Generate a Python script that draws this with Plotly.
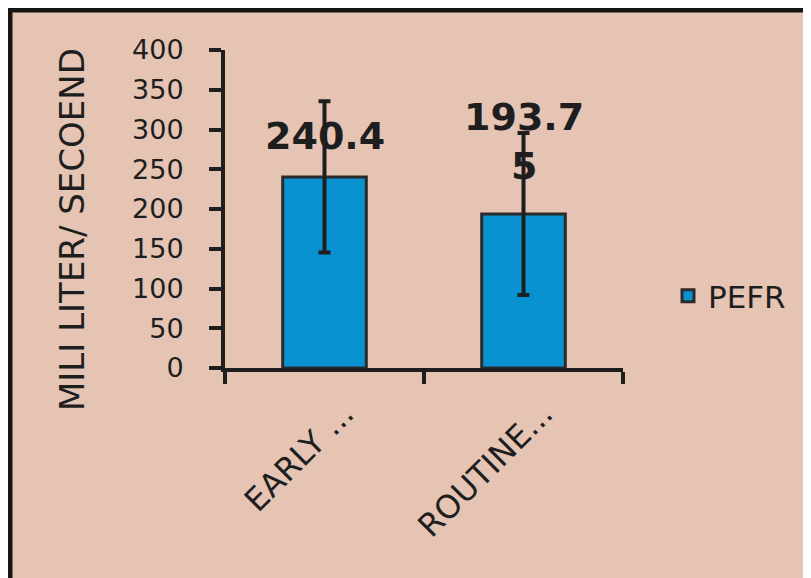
import plotly.graph_objects as go

# ---- data ----
categories = ["EARLY ...", "ROUTINE..."]
pefr_mean = [240.4, 193.75]
pefr_err = [95, 102]
label_text = ["240.4", "193.7<br>5"]
y_ticks = [0, 50, 100, 150, 200, 250, 300, 350, 400]
series_name = "PEFR"
y_title = "MILI LITER/ SECOEND"

BG = "#E5C4B4"
INK = "#1E1E1E"

OFF = 8  # page body margin
W, H = 811, 578
L, R, T, B = 225 - OFF, 811 - (623 - OFF), 50 - OFF, 578 - (368 - OFF)
pw, ph = W - L - R, H - T - B

def px_x(p):
    return (p - OFF - L) / pw

def px_y(p):
    return (H - B - (p - OFF)) / ph

fig = go.Figure()
fig.add_trace(go.Bar(
    x=categories, y=pefr_mean, name=series_name, width=0.42,
    marker=dict(color="#0892CF", line=dict(color="#2A2A2A", width=3)),
    error_y=dict(type="data", array=pefr_err, visible=True,
                 color=INK, thickness=4, width=6),
    showlegend=True,
))

annotations = []
shifts = [41, 72]
for c, v, t, s in zip(categories, pefr_mean, label_text, shifts):
    annotations.append(dict(
        x=c, y=v, xref="x", yref="y", text=t, showarrow=False,
        yanchor="middle", yshift=s,
        font=dict(family="DejaVu Sans", size=38, color=INK, weight="bold"),
    ))
annotations.append(dict(
    x=px_x(72), y=px_y(230), xref="paper", yref="paper", text=y_title,
    showarrow=False, textangle=-90, xanchor="center", yanchor="middle",
    font=dict(family="DejaVu Sans", size=34, color=INK),
))

fig.update_layout(
    width=W, height=H,
    margin=dict(l=L, r=R, t=T, b=B, pad=0),
    paper_bgcolor=BG, plot_bgcolor=BG,
    annotations=annotations,
    showlegend=True,
    legend=dict(x=px_x(668), y=px_y(296), xanchor="left", yanchor="middle",
                bgcolor="rgba(0,0,0,0)",
                font=dict(family="DejaVu Sans", size=31, color=INK)),
    shapes=[dict(type="rect", xref="paper", yref="paper",
                 x0=px_x(10), x1=px_x(840), y0=px_y(10), y1=px_y(620),
                 line=dict(color="#151515", width=5), fillcolor="rgba(0,0,0,0)",
                 layer="below")],
    xaxis=dict(
        showline=True, linecolor=INK, linewidth=4,
        ticks="outside", tickson="boundaries", ticklen=12, tickwidth=4,
        tickcolor=INK, tickangle=-45, showgrid=False,
        ticklabelshift=20, ticklabelstandoff=10,
        tickfont=dict(family="DejaVu Sans", size=32, color=INK),
        range=[-0.5, 1.5],
    ),
    yaxis=dict(
        range=[0, 400], tickvals=y_ticks, showline=True, linecolor=INK,
        linewidth=4, ticks="outside", ticklen=12, tickwidth=4, tickcolor=INK,
        showgrid=False, zeroline=False, ticklabelstandoff=20,
        tickfont=dict(family="DejaVu Sans", size=27, color=INK),
    ),
)

fig.write_html("out.html")
